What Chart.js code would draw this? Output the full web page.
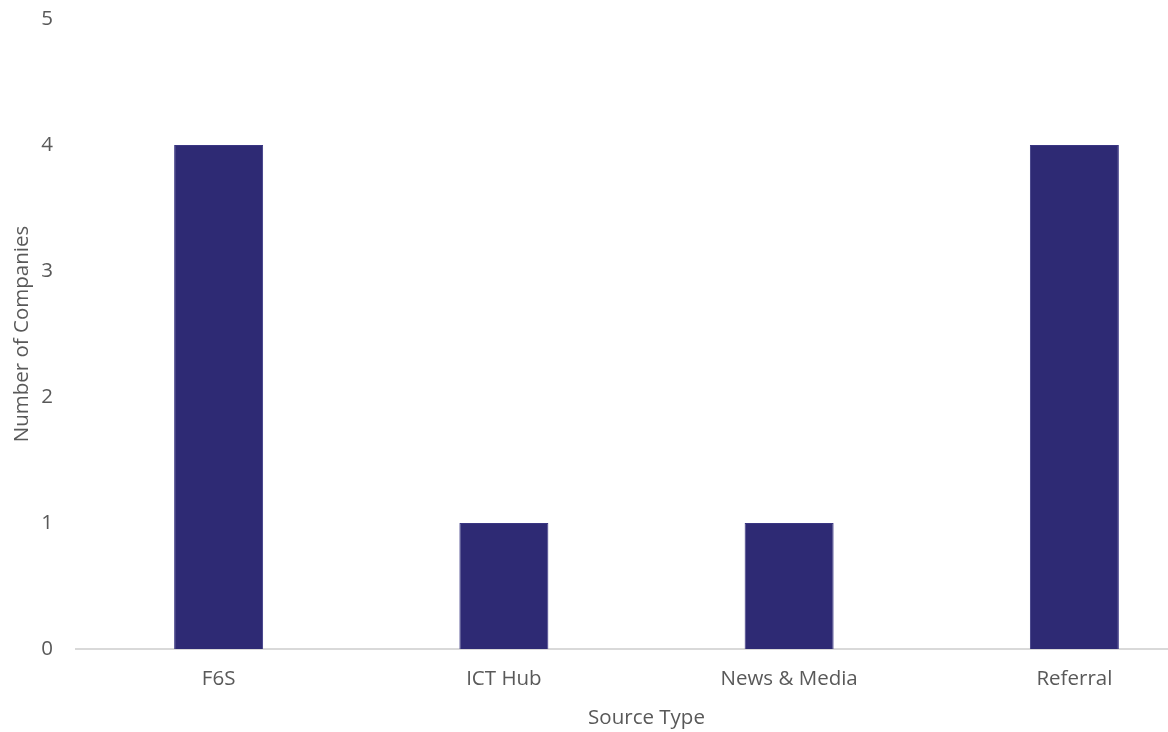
<!DOCTYPE html>
<html>
<head>
<meta charset="utf-8">
<script src="https://cdn.jsdelivr.net/npm/chart.js@4"></script>
<style>
  html, body { margin: 0; padding: 0; background: #fff; overflow: hidden; }
  .wrap { width: 1168px; height: 732px; overflow: hidden; }
</style>
</head>
<body>
<div class="wrap"><canvas id="myChart" width="1217" height="732"></canvas></div>
<script>
const categories = ['F6S', 'ICT Hub', 'News & Media', 'Referral'];
const companies = [4, 1, 1, 4];
const yTicks = [0, 1, 2, 3, 4, 5];

const textColor = '#595959';
const font = { family: 'Open Sans', size: 20.5 };

const data = {
  labels: categories,
  datasets: [{
    label: 'Number of Companies',
    data: companies,
    backgroundColor: '#2E2A74',
    borderColor: '#3A3683',
    borderWidth: 1,
    barPercentage: 0.312,
    categoryPercentage: 1
  }]
};

const config = {
  type: 'bar',
  data: data,
  options: {
    responsive: false,
    animation: false,
    layout: { padding: { top: 19, bottom: 0, left: 0, right: 0 } },
    plugins: { legend: { display: false }, tooltip: { enabled: false } },
    scales: {
      x: {
        afterFit: (axis) => {
          axis.height = 83;
          axis.paddingLeft = 0;
          axis.paddingRight = 0;
        },
        grid: { display: false, drawTicks: false },
        border: { display: true, color: '#D9D9D9', width: 2 },
        ticks: { color: textColor, font: font, padding: 18 },
        title: { display: true, text: 'Source Type', color: textColor, font: font, padding: { top: 0, bottom: 2 } }
      },
      y: {
        min: 0,
        max: 5,
        afterBuildTicks: (axis) => { axis.ticks = yTicks.map(v => ({ value: v })); },
        afterFit: (axis) => {
          axis.width = 76;
          axis.paddingTop = 0;
          axis.paddingBottom = 0;
        },
        grid: { display: false, drawTicks: false },
        border: { display: false },
        ticks: { color: textColor, font: font, padding: 23 },
        title: { display: true, text: 'Number of Companies', color: textColor, font: font, padding: { top: 10, bottom: 0 } }
      }
    }
  }
};

const myChart = new Chart(document.getElementById('myChart'), config);
</script>
</body>
</html>
